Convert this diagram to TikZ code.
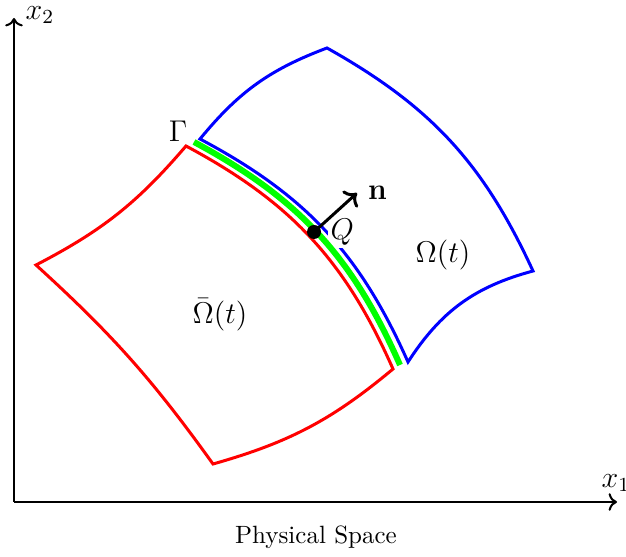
\documentclass[tikz,border=0pt]{standalone}
\usetikzlibrary{arrows.meta, positioning}
\definecolor{cred}{HTML}{FF0000}
\definecolor{cblue}{HTML}{0000FF}
\definecolor{cgreen}{HTML}{00FF00}
\tikzset{
  every picture/.style={line width=0.8pt},
  rim/.style={draw=#1, line width=1.2pt, line join=miter},
  rim/.default=black,
  axis/.style={->, line width=0.8pt},
  lbl/.style={font=\large, inner sep=1pt},
}

\begin{document}
\begin{tikzpicture}[x=0.4pt, y=-0.4pt]
  \useasboundingbox (0,0) rectangle (626,557);
  % axes
  \coordinate (O) at (14,502);
  \coordinate (X) at (617,502);
  \coordinate (Y) at (14,18);
  \draw[axis] (O) -- (X);
  \draw[axis] (O) -- (Y);
  \node[lbl] (x1) at (616,483) {$x_1$};
  \node[lbl] (x2) at (40,15) {$x_2$};
  \node (cap) at (316,537) {Physical Space};
  % corners of the two regions and of the interface
  \foreach \n/\x/\y in {r1/186/146, r2/36/265, r3/213/464, r4/393/369,
                        b1/200/139, b2/327/48, b3/533/271, b4/408/362,
                        g1/194/142, g2/400/365, Qc/314/232}
    \coordinate (\n) at (\x,\y);
  \draw[rim=cblue] (b1) to[bend left=15] (b2) to[bend left=18] (b3)
    to[bend right=21] (b4) to[bend right=19] cycle;
  \node[lbl, fill=white, right=5.2pt of Qc] (Qlbl) {$Q$};
  \draw[rim=cred] (r1) to[bend left=11] (r2) to[bend left=6] (r3)
    to[bend right=12] (r4) to[bend right=19] cycle;
  \draw[draw=cgreen, line width=2.4pt] (g1) to[bend left=19] (g2);
  % point Q and the normal
  \node[circle, fill=black, minimum size=5.6pt, inner sep=0pt] (Q) at (Qc) {};
  \coordinate (ntip) at (357,193);
  \draw[->, line width=1.2pt] (Q.center) -- (ntip);
  \node[lbl, right=3pt of ntip] (n) {$\mathbf{n}$};
  \node[lbl] (gam) at (178,131) {$\Gamma$};
  \node[lbl] (om) at (443,255) {$\Omega(t)$};
  \node[lbl] (omb) at (220,315) {$\bar{\Omega}(t)$};
\end{tikzpicture}
\end{document}
